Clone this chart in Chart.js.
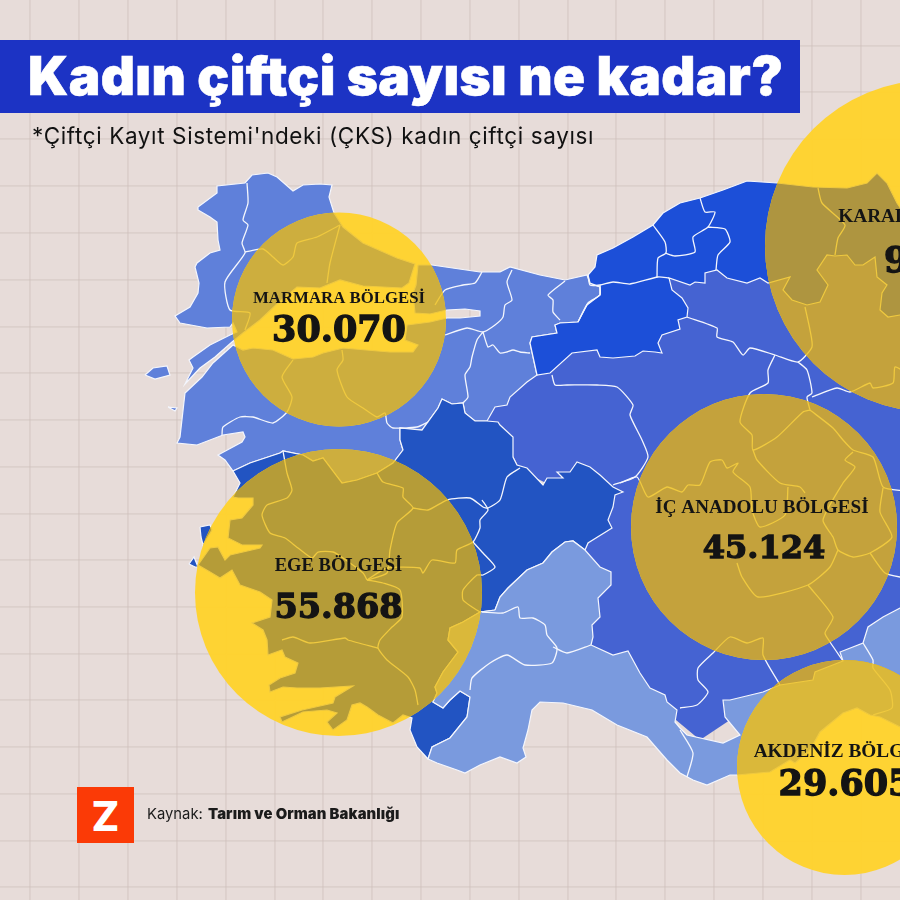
<!DOCTYPE html>
<html lang="tr"><head><meta charset="utf-8">
<script src="https://cdn.jsdelivr.net/npm/chart.js@4"></script>
<style>
html,body{margin:0;padding:0;background:#e7dcd9;width:900px;height:900px;overflow:hidden}
#wrap{position:relative;width:900px;height:900px;overflow:hidden}
canvas{position:absolute;left:0;top:0}
.t{position:absolute;white-space:nowrap}
#bar{position:absolute;left:0;top:40px;width:800px;height:73px;background:#1c33c4}
#title{left:28px;top:46px;font:900 53px/60px Inter,sans-serif;color:#fff;letter-spacing:.42px;-webkit-text-stroke:.6px #fff}
#sub{left:32px;top:123px;font:400 22.5px/26px Inter,sans-serif;color:#111;letter-spacing:.62px}
#logo{position:absolute;left:77px;top:787px;width:57px;height:56px;background:#fb3a06;color:#fff;font:800 41px/58px Inter,sans-serif;text-align:center}
#src{left:147px;top:805px;font:400 14.8px/18px Inter,sans-serif;color:#1b1b1b}
#src b{font-weight:900;letter-spacing:.12px;margin-left:1px}
</style></head><body>
<div id="wrap">
<canvas id="c" width="900" height="900"></canvas>
<div id="bar"></div>
<div class="t" id="title">Kadın çiftçi sayısı ne kadar?</div>
<div class="t" id="sub">*Çiftçi Kayıt Sistemi'ndeki (ÇKS) kadın çiftçi sayısı</div>
<div id="logo">Z</div>
<div class="t" id="src">Kaynak: <b>Tarım ve Orman Bakanlığı</b></div>
</div>
<script>
// Values
const regionNames=["MARMARA BÖLGESİ","EGE BÖLGESİ","İÇ ANADOLU BÖLGESİ","AKDENİZ BÖLGESİ","KARADENİZ BÖLGESİ"];
const regionValues=["30.070","55.868","45.124","29.605","91.000"];
// Bubbles, in map units
const bubbleX=[339,338.5,764,844.5,931];
const bubbleY=[319.5,592.5,527,767.5,246];
const bubbleR=[107,143.5,133,107.5,166];
const nameDX=[0,0,-2,0,12];
const nameDY=[-21,-26,-19,-15,-29];
const valueDX=[0,0,0,1,20];
const valueDY=[12,17,23,18,17];
const nameSize=[16.8,18.6,19.1,19.3,19.3];
const valueSize=[35,33.5,32,35,35];
// Grid
const gridX=[30,79,128,177,226,275,323,372,421,470,519,568,616,665,714,763,812,861];
const gridY=[46,92,139,186,233,280,327,373,420,467,514,560,607,654,700,747,794,841,887];
// Map outlines, in map units
const thrace=[[198,207],[217,193],[217,186],[245,183],[252,175],[268,173],[277,177],[293,191],[303,185],[320,184],[332,185],[329,197],[334,213],[343,227],[363,243],[397,258],[415,264],[409,283],[402,288],[363,286],[340,280],[320,288],[297,287],[277,304],[260,320],[243,333],[232,342],[215,357],[200,368],[185,384],[193,368],[189,360],[193,357],[210,345],[230,335],[237,332],[233,323],[230,327],[207,328],[180,323],[175,316],[190,307],[198,293],[199,283],[195,267],[197,263],[210,253],[220,250],[218,240],[217,222],[210,217],[198,210]];
const gokceada=[[145,375],[153,368],[167,366],[170,375],[155,379]];
const bozcaada=[[168,407],[177,408],[175,411]];
const marmaraAsia=[[418,265],[432,265],[480,272],[500,272],[510,267],[540,275],[565,280],[587,275],[590,283],[600,287],[600,295],[587,305],[578,322],[560,323],[555,325],[557,333],[532,337],[530,343],[537,375],[527,382],[510,397],[507,405],[495,407],[487,421],[475,421],[465,413],[463,403],[452,404],[442,399],[438,408],[422,430],[400,428],[400,440],[403,450],[393,463],[377,473],[357,480],[342,483],[323,458],[313,461],[303,455],[283,451],[280,453],[250,463],[233,471],[225,460],[218,455],[242,442],[245,437],[243,432],[223,435],[197,445],[177,443],[180,437],[185,393],[202,377],[213,363],[233,345],[243,350],[253,348],[273,350],[293,359],[313,357],[323,353],[343,348],[390,352],[413,352],[418,345],[405,340],[407,325],[430,322],[447,318],[460,318],[480,316],[480,311],[465,309],[447,310],[430,314],[415,313],[413,293],[416,285]];
const centralBase=[[520,375],[600,340],[650,290],[700,250],[900,250],[905,620],[905,680],[820,690],[760,700],[700,740],[640,690],[590,650],[580,560],[595,530],[600,500],[560,490],[520,470],[505,440],[480,415]];
const aegean=[[233,471],[250,463],[280,453],[283,451],[303,455],[313,461],[323,458],[342,483],[357,480],[377,473],[393,463],[403,450],[400,440],[400,428],[422,430],[438,408],[442,399],[452,404],[463,403],[465,413],[475,421],[487,421],[498,422],[500,425],[513,437],[513,457],[517,465],[527,468],[543,485],[547,478],[563,478],[557,472],[570,472],[577,462],[590,467],[600,475],[613,487],[623,492],[615,495],[613,507],[608,520],[612,528],[588,543],[585,550],[573,541],[565,542],[552,552],[543,563],[527,570],[508,588],[500,597],[495,610],[480,612],[463,622],[450,628],[448,640],[458,652],[443,672],[435,687],[437,693],[433,702],[443,708],[450,700],[460,691],[470,697],[467,717],[450,738],[432,747],[428,759],[417,747],[410,730],[412,718],[403,715],[393,723],[378,715],[367,707],[360,703],[352,705],[347,720],[333,730],[327,722],[337,713],[327,710],[303,712],[282,722],[280,717],[302,710],[333,703],[335,697],[353,686],[320,688],[297,688],[283,687],[270,692],[269,685],[280,678],[295,673],[298,663],[285,657],[282,650],[268,655],[267,640],[263,630],[252,623],[270,617],[272,600],[260,592],[240,585],[232,570],[220,578],[210,572],[198,565],[210,548],[218,547],[225,560],[230,555],[260,548],[262,545],[242,545],[228,538],[230,520],[242,518],[253,505],[253,498],[238,498],[233,497],[240,483]];
const lesvos=[[200,527],[210,525],[212,530],[203,545],[201,537]];
const chios=[[189,564],[194,557],[198,567],[195,567]];
const blackSea=[[588,275],[595,267],[597,255],[613,248],[633,237],[653,225],[663,213],[680,203],[700,198],[723,190],[747,181],[777,183],[813,187],[847,188],[867,183],[877,173],[887,183],[897,203],[905,215],[905,315],[900,315],[888,317],[880,310],[882,293],[887,285],[877,277],[875,257],[863,265],[855,265],[847,255],[835,256],[827,255],[817,270],[828,285],[820,302],[807,305],[792,300],[783,290],[790,277],[768,283],[760,278],[747,283],[727,278],[717,270],[705,273],[705,283],[695,282],[690,285],[669,278],[672,290],[682,298],[688,308],[687,317],[678,320],[680,329],[662,335],[658,343],[662,353],[655,352],[643,351],[635,356],[613,358],[600,357],[597,350],[572,353],[550,373],[537,375],[530,343],[532,337],[557,333],[555,325],[560,323],[578,322],[587,305],[600,295],[600,287],[590,283]];
const mediterranean=[[495,610],[500,597],[508,588],[527,570],[543,563],[552,552],[565,542],[573,541],[585,550],[600,567],[611,572],[611,585],[598,598],[600,617],[592,625],[593,637],[591,645],[613,655],[628,651],[640,673],[650,688],[665,695],[667,702],[677,710],[675,722],[680,728],[687,735],[723,743],[740,735],[725,717],[723,700],[730,700],[763,692],[780,685],[813,680],[815,672],[843,661],[840,652],[863,643],[868,627],[883,617],[900,608],[905,608],[905,729],[900,727],[880,717],[870,715],[857,708],[843,713],[820,732],[810,750],[795,763],[790,760],[770,772],[737,775],[730,775],[707,785],[693,780],[680,773],[667,760],[647,737],[617,725],[592,710],[563,703],[540,702],[532,710],[528,730],[523,748],[526,757],[517,763],[500,757],[480,765],[465,773],[457,770],[437,763],[428,759],[432,747],[450,738],[467,717],[470,697],[460,691],[450,700],[443,708],[433,702],[437,693],[435,687],[443,672],[458,652],[448,640],[450,628],[463,622],[480,612]];
// Province borders
const provinceLines=[
[[247,183],[248,203],[243,220],[248,225],[242,243],[245,253],[225,282],[230,310],[250,313],[245,330]],
[[245,252],[263,249],[273,257],[283,265],[293,257],[297,243],[317,237],[340,225]],
[[340,225],[330,263],[327,283]],
[[293,360],[282,377],[292,397],[287,412],[273,423],[253,417],[240,417],[223,427],[222,435]],
[[342,350],[343,360],[337,370],[347,397],[363,408],[377,417],[385,413],[387,423],[393,428],[417,427],[428,422]],
[[482,272],[475,283],[463,285],[445,290],[435,305]],
[[512,270],[507,282],[512,300],[505,305],[503,317],[495,325],[483,332],[467,328],[445,335]],
[[483,332],[477,340],[472,357],[470,367],[465,375],[468,397],[463,403]],
[[483,332],[488,347],[493,345],[500,353],[507,352],[513,350],[520,352],[530,353]],
[[565,281],[548,295],[553,300],[553,312],[560,320]],
[[283,451],[287,473],[292,490],[287,498],[267,505],[262,515],[270,533],[285,538],[298,548],[312,558],[318,552],[333,552],[343,558],[363,573],[367,580]],
[[377,473],[383,482],[403,488],[403,497],[413,508],[397,523],[390,550],[387,573],[367,580]],
[[413,508],[428,510],[447,500],[470,498],[483,507],[488,508],[500,500],[507,477],[520,468]],
[[482,500],[488,510],[480,520],[480,528],[473,542],[457,550],[455,563],[432,560],[423,573],[420,568],[387,568],[367,580]],
[[473,542],[483,553],[495,567],[483,575],[477,575],[463,590],[463,600],[472,607],[480,612]],
[[367,580],[383,583],[400,590],[402,617],[392,627],[380,640],[378,648],[387,660],[408,677],[415,690],[418,705]],
[[282,640],[293,637],[310,643],[345,638],[348,640],[378,648]],
[[552,375],[555,385],[567,385],[597,385],[617,387],[633,405],[630,415],[642,440],[648,457],[635,477],[613,485]],
[[687,317],[717,328],[717,337],[733,342],[743,355],[750,348],[775,355],[798,362],[812,347],[810,330],[805,307]],
[[775,355],[768,370],[768,383],[750,393],[740,422],[752,435],[753,450],[777,437],[803,412],[810,410]],
[[798,362],[807,370],[812,393],[807,397],[810,410]],
[[812,397],[837,388],[850,392],[870,383],[873,388],[893,383],[895,367],[905,372]],
[[810,410],[833,428],[843,440],[853,450],[873,457],[883,487],[905,491]],
[[753,450],[757,460],[780,483],[800,487],[805,493]],
[[853,452],[845,460],[855,467],[843,483],[823,520],[833,537],[838,550],[853,557],[870,553],[892,537],[880,512],[883,488]],
[[838,550],[830,567],[808,585],[758,597],[742,577],[737,563]],
[[808,585],[833,617],[825,633],[830,642],[843,661]],
[[870,553],[885,573],[905,578]],
[[620,483],[637,477],[648,497],[667,487],[682,492],[688,485],[700,485],[710,462],[722,460],[727,468],[738,463],[733,472],[750,487],[752,510],[760,527],[785,515],[788,487]],
[[680,708],[697,705],[708,692],[698,680],[698,668],[713,653],[730,637],[747,643],[763,638],[763,655],[780,685]],
[[588,275],[590,285],[600,285],[613,282],[630,284],[658,277],[669,278]],
[[653,225],[665,242],[666,253],[658,258],[657,277]],
[[665,253],[675,256],[695,252],[693,237],[708,227],[715,212],[705,212],[700,198]],
[[708,227],[725,229],[730,242],[718,255],[716,270]],
[[600,285],[600,295],[588,303],[578,322]],
[[818,188],[822,203],[845,225],[838,238],[835,255]],
[[482,612],[503,613],[518,607],[520,618],[533,618],[545,625],[547,635],[557,648],[552,663],[525,665],[507,655],[490,663],[472,678],[470,690]],
[[553,647],[567,653],[591,645]],
[[680,730],[693,753],[687,777]],
[[863,643],[873,660],[873,668],[890,690],[892,708],[873,715]]
];
// Colours: fill, fill under a bubble
const shapes=[
 {pts:centralBase,fill:"#4563d2",under:"#c4a23c",edge:0},
 {pts:thrace,fill:"#5f80da",under:"#cdae3e",edge:1.2},
 {pts:gokceada,fill:"#5f80da",under:"#cdae3e",edge:1.2},
 {pts:bozcaada,fill:"#5f80da",under:"#cdae3e",edge:1.2},
 {pts:marmaraAsia,fill:"#5f80da",under:"#cdae3e",edge:1.2},
 {pts:aegean,fill:"#2254c2",under:"#b59c38",edge:1.2},
 {pts:lesvos,fill:"#2254c2",under:"#b59c38",edge:1.2},
 {pts:chios,fill:"#2254c2",under:"#b59c38",edge:1.2},
 {pts:blackSea,fill:"#1c4fd8",under:"#ae9540",edge:1.2},
 {pts:mediterranean,fill:"#7a9ade",under:"#dab83a",edge:1.2}
];
const toXY=p=>p.map(([x,y])=>({x,y}));
const base={type:"scatter",showLine:true,pointRadius:0,pointHoverRadius:0,spanGaps:false};
const datasets=[];
function mapLayer(under){
 const lineCol=under?"#efc93f":"#f4f6fd";
 shapes.forEach(s=>datasets.push({...base,data:toXY(s.pts.concat([s.pts[0]])),fill:"shape",backgroundColor:under?s.under:s.fill,borderColor:s.edge?lineCol:"rgba(0,0,0,0)",borderWidth:s.edge,tension:0}));
 provinceLines.forEach(l=>datasets.push({...base,data:toXY(l),fill:false,borderColor:lineCol,borderWidth:1.3,tension:.2,borderJoinStyle:"round"}));
}
mapLayer(false);
const bubbleIndex=datasets.length;
datasets.push({type:"bubble",data:bubbleX.map((x,i)=>({x,y:bubbleY[i],r:bubbleR[i]})),backgroundColor:"rgba(255,210,44,.96)",borderWidth:0,hoverRadius:0});
mapLayer(true);
datasets.forEach((d,i)=>d.order=-i);

const bubbleLayer={id:"bubbleLayer",
 afterDatasetDraw(chart,args){
  if(args.index!==bubbleIndex)return;
  const ctx=chart.ctx,pts=args.meta.data;
  ctx.save();ctx.beginPath();
  pts.forEach((p,i)=>{const r=bubbleR[i];ctx.moveTo(p.x+r,p.y);ctx.arc(p.x,p.y,r,0,Math.PI*2);});
  ctx.clip();
 },
 afterDatasetsDraw(chart){
  const ctx=chart.ctx;ctx.restore();
  const pts=chart.getDatasetMeta(bubbleIndex).data;
  ctx.save();ctx.textAlign="center";ctx.textBaseline="middle";ctx.fillStyle="#141414";ctx.strokeStyle="#141414";
  pts.forEach((p,i)=>{
   ctx.font="bold "+nameSize[i]+"px 'Liberation Serif',serif";
   ctx.fillText(regionNames[i],p.x+nameDX[i],p.y+nameDY[i]);
   ctx.font="bold "+valueSize[i]+"px 'DejaVu Serif',serif";
   ctx.lineWidth=1.3;
   ctx.fillText(regionValues[i],p.x+valueDX[i],p.y+valueDY[i]);
   ctx.strokeText(regionValues[i],p.x+valueDX[i],p.y+valueDY[i]);
  });
  ctx.restore();
 }};
const gridColor="rgba(205,190,186,.42)";
new Chart(document.getElementById("c"),{type:"scatter",data:{datasets},plugins:[bubbleLayer],options:{
 responsive:false,animation:false,events:[],layout:{padding:0,autoPadding:false},
 plugins:{legend:{display:false},tooltip:{enabled:false},title:{display:false}},
 scales:{
  x:{type:"linear",min:0,max:900,afterBuildTicks:a=>{a.ticks=gridX.map(value=>({value}))},ticks:{display:false},border:{display:false},grid:{color:gridColor,lineWidth:1.8,drawTicks:false}},
  y:{type:"linear",min:0,max:900,reverse:true,afterBuildTicks:a=>{a.ticks=gridY.map(value=>({value}))},ticks:{display:false},border:{display:false},grid:{color:gridColor,lineWidth:1.8,drawTicks:false}}
 }}});
</script>
</body></html>
